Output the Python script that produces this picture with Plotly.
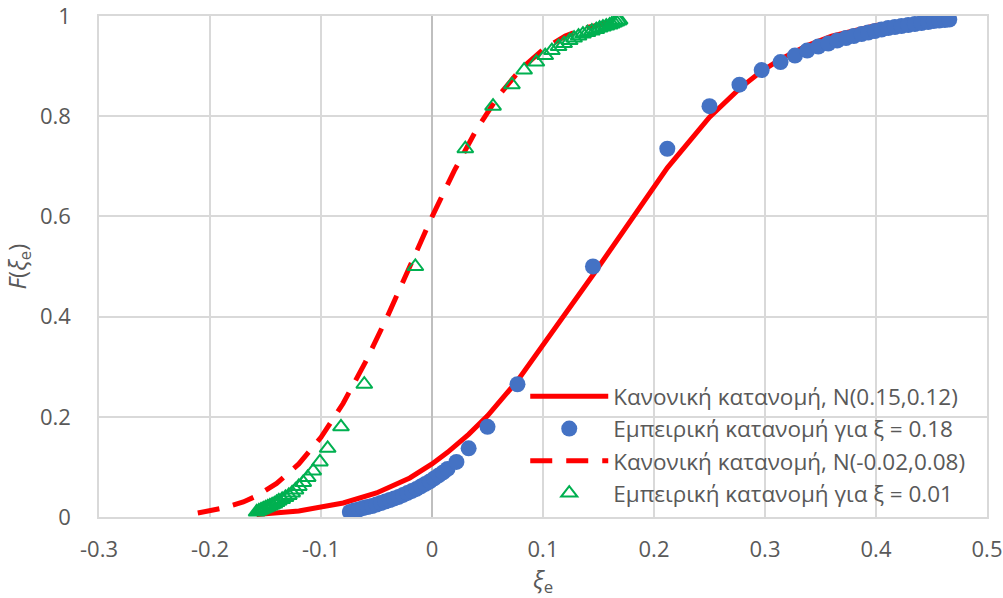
import plotly.graph_objects as go

# ---- data ----
# Empirical distribution, xi = 0.18 (blue dots)
blue_x = [-0.074, -0.070, -0.066, -0.062, -0.058, -0.054, -0.050, -0.046, -0.042, -0.038,
          -0.034, -0.030, -0.026, -0.022, -0.018, -0.014, -0.010, -0.006, -0.002, 0.002,
          0.006, 0.010, 0.014, 0.022, 0.033, 0.050, 0.077, 0.145,
          0.212, 0.250, 0.277, 0.297, 0.314, 0.327, 0.338, 0.348, 0.357, 0.365,
          0.373, 0.380, 0.387, 0.393, 0.399, 0.405, 0.411, 0.417, 0.423, 0.429,
          0.435, 0.441, 0.447, 0.452, 0.457, 0.462, 0.466]
blue_y = [0.010, 0.013, 0.015, 0.018, 0.020, 0.022, 0.025, 0.028, 0.031, 0.034,
          0.037, 0.040, 0.044, 0.048, 0.052, 0.056, 0.061, 0.066, 0.071, 0.077,
          0.083, 0.089, 0.096, 0.110, 0.137, 0.180, 0.265, 0.500,
          0.735, 0.820, 0.863, 0.892, 0.908, 0.921, 0.931, 0.939, 0.945, 0.951,
          0.956, 0.960, 0.964, 0.967, 0.970, 0.973, 0.976, 0.978, 0.980, 0.982,
          0.984, 0.986, 0.988, 0.990, 0.991, 0.992, 0.993]

# Empirical distribution, xi = 0.01 (green triangles)
green_x = [-0.158, -0.156, -0.154, -0.152, -0.150, -0.148, -0.146, -0.144, -0.142, -0.140,
           -0.138, -0.135, -0.132, -0.129, -0.126, -0.123, -0.120, -0.116, -0.112, -0.107,
           -0.101, -0.094, -0.082, -0.061, -0.015,
           0.030, 0.055, 0.072, 0.083, 0.094, 0.102, 0.108, 0.114, 0.119, 0.124,
           0.128, 0.132, 0.136, 0.140, 0.144, 0.148, 0.151, 0.154, 0.157, 0.160,
           0.162, 0.164, 0.166, 0.168, 0.169]
green_y = [0.010, 0.012, 0.014, 0.016, 0.018, 0.020, 0.022, 0.024, 0.026, 0.029,
           0.032, 0.035, 0.039, 0.043, 0.048, 0.054, 0.061, 0.069, 0.079, 0.092,
           0.110, 0.137, 0.180, 0.265, 0.500,
           0.735, 0.820, 0.863, 0.892, 0.908, 0.921, 0.931, 0.939, 0.945, 0.951,
           0.956, 0.960, 0.964, 0.967, 0.970, 0.973, 0.976, 0.978, 0.980, 0.982,
           0.984, 0.986, 0.988, 0.990, 0.992]

# Normal distribution N(0.15, 0.12) (solid red)
norm1_x = [-0.158, -0.120, -0.080, -0.050, -0.020, 0.000, 0.014, 0.033, 0.050, 0.077,
           0.145, 0.212, 0.250, 0.277, 0.297, 0.314, 0.338, 0.360, 0.400, 0.430, 0.466]
norm1_y = [0.005, 0.012, 0.028, 0.048, 0.078, 0.106, 0.129, 0.165, 0.202, 0.272,
           0.483, 0.697, 0.798, 0.855, 0.890, 0.914, 0.941, 0.960, 0.981, 0.990, 0.996]

# Normal distribution N(-0.02, 0.08) (dashed red)
norm2_x = [-0.211, -0.190, -0.170, -0.158, -0.140, -0.120, -0.100, -0.080, -0.060, -0.040,
           -0.020, 0.000, 0.020, 0.040, 0.060, 0.080, 0.100, 0.120, 0.140, 0.169]
norm2_y = [0.008, 0.017, 0.030, 0.042, 0.067, 0.106, 0.159, 0.227, 0.309, 0.401,
           0.500, 0.599, 0.691, 0.773, 0.841, 0.894, 0.933, 0.960, 0.977, 0.991]

x_ticks = [-0.3, -0.2, -0.1, 0, 0.1, 0.2, 0.3, 0.4, 0.5]
x_tick_text = ["-0.3", "-0.2", "-0.1", "0", "0.1", "0.2", "0.3", "0.4", "0.5"]
y_ticks = [0, 0.2, 0.4, 0.6, 0.8, 1]
y_tick_text = ["0", "0.2", "0.4", "0.6", "0.8", "1"]

names = ["Κανονική κατανομή, N(0.15,0.12)",
         "Εμπειρική κατανομή για ξ = 0.18",
         "Κανονική κατανομή, N(-0.02,0.08)",
         "Εμπειρική κατανομή για ξ = 0.01"]

RED = "#FF0000"
BLUE = "#4472C4"
GREEN = "#00B050"
TEXT = "#595959"
GRID = "#D9D9D9"
FONT = "Open Sans"

fig = go.Figure()
fig.add_trace(go.Scatter(x=norm1_x, y=norm1_y, mode="lines", name=names[0],
                         line=dict(color=RED, width=5)))
fig.add_trace(go.Scatter(x=blue_x, y=blue_y, mode="markers", name=names[1],
                         marker=dict(color=BLUE, size=16, line=dict(width=0))))
fig.add_trace(go.Scatter(x=norm2_x, y=norm2_y, mode="lines", name=names[2],
                         line=dict(color=RED, width=5, dash="22px,14px")))
fig.add_trace(go.Scatter(x=green_x, y=green_y, mode="markers", name=names[3],
                         marker=dict(symbol="triangle-up-open", color=GREEN, size=14,
                                     line=dict(color=GREEN, width=2))))

fig.update_layout(
    width=1003, height=598,
    margin=dict(l=99, r=16, t=16, b=81, autoexpand=False),
    paper_bgcolor="white", plot_bgcolor="white",
    font=dict(family=FONT, color=TEXT, size=22),
    showlegend=True,
    legend=dict(x=0.48, y=0.283, xanchor="left", yanchor="top",
                bgcolor="rgba(0,0,0,0)", itemwidth=78,
                font=dict(family=FONT, size=22.5, color=TEXT),
                tracegroupgap=0, itemsizing="trace"),
    xaxis=dict(range=[-0.3, 0.5], tickvals=x_ticks, ticktext=x_tick_text,
               automargin=False, ticklabeloverflow="allow",
               showgrid=True, gridcolor=GRID, gridwidth=1.5,
               zeroline=True, zerolinecolor="#BFBFBF", zerolinewidth=1.5,
               showline=True, mirror=True, linecolor=GRID, linewidth=1.5,
               ticks="", ticklabelstandoff=12,
               tickfont=dict(size=22, color=TEXT),
               title=dict(text="<i>ξ</i><sub>e</sub>", font=dict(size=24, color=TEXT),
                          standoff=6)),
    yaxis=dict(range=[0, 1], tickvals=y_ticks, ticktext=y_tick_text,
               automargin=False, ticklabeloverflow="allow",
               showgrid=True, gridcolor=GRID, gridwidth=1.5,
               zeroline=True, zerolinecolor="#BFBFBF", zerolinewidth=1.5,
               showline=True, mirror=True, linecolor=GRID, linewidth=1.5,
               ticks="", ticklabelstandoff=22,
               tickfont=dict(size=22, color=TEXT),
               title=dict(text="<i>F</i>(<i>ξ</i><sub>e</sub>)", font=dict(size=24, color=TEXT),
                          standoff=8)),
)

fig.write_html("out.html")
